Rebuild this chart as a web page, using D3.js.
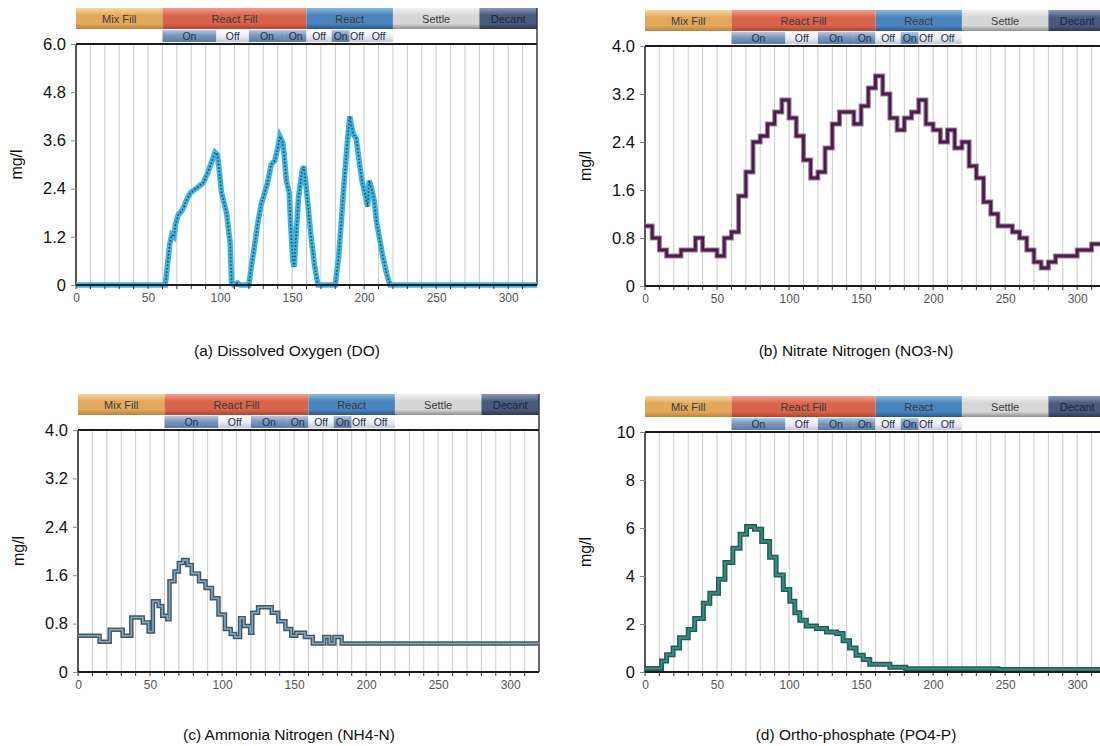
<!DOCTYPE html>
<html><head><meta charset="utf-8">
<script src="https://cdn.jsdelivr.net/npm/d3@7"></script>
<style>body{margin:0;background:#fff}svg{display:block}text{font-family:"Liberation Sans",Arial,sans-serif}</style>
</head><body><svg id="c" width="1100" height="746"></svg>
<script>
// ---- phase bars ----
const phaseNames = ["Mix Fill","React Fill","React","Settle","Decant"];
const phaseStart = [0,60,160,220,280];
const phaseEnd   = [60,160,220,280,320];
const aerLabels = ["On","Off","On","On","Off","On","Off","Off"];
const aerStart  = [60,97.5,120,145,160,177.5,190,200];
const aerEnd    = [97.5,120,145,160,177.5,190,200,220];
const xTicks = [0,50,100,150,200,250,300];
const gridTicks = [10,20,30,40,50,60,70,80,90,100,110,120,130,140,150,160,170,180,190,200,210,220,230,240,250,260,270,280,290,300,310];

// ---- (a) Dissolved Oxygen ----
const doTime  = [0,62,63.5,65,66.5,68,69,71,73.5,75,76.5,79.5,81.5,85,88.5,91.5,95,96.5,98,99,101,104.5,107,108,109.5,112,114,120,121.5,124,126,128.5,131,133,135.5,138,140,141.5,143.5,144.5,146,148,149,150.5,151.5,152.5,154.5,157,158,159,161,163,165.5,168,180,182.3,184,186,188,190,191,192.5,194.5,196.5,198.5,201,202.5,203.5,205.5,207,208.5,211,213,215.5,218,320];
const doValue = [0,0,0.5,1.0,1.25,1.2,1.5,1.75,1.85,1.95,2.1,2.3,2.35,2.45,2.55,2.8,3.15,3.3,3.25,3.0,2.3,1.8,1.05,0.05,0,0.05,0,0,0.4,1.0,1.5,2.0,2.3,2.55,3.0,3.1,3.4,3.7,3.55,3.25,2.6,2.3,1.5,0.6,0.45,1.1,2.2,2.85,2.95,2.7,2.0,1.25,0.5,0,0,0.7,1.5,2.5,3.4,4.2,4.0,3.75,3.65,3.1,2.6,2.2,1.95,2.6,2.35,2.1,1.6,1.1,0.7,0.3,0,0];
const doTicks = [0,1.2,2.4,3.6,4.8,6.0];

// ---- (b) Nitrate ----
const noTime  = [0,5,10,15,20,25,30,35,40,45,50,55,60,65,70,75,80,85,90,95,100,105,110,115,120,125,130,135,140,145,150,155,160,165,170,175,180,185,190,195,200,205,210,215,220,225,230,235,240,245,250,255,260,265,270,275,280,285,290,295,300,305,310,315,320];
const noValue = [1.0,0.8,0.6,0.5,0.5,0.6,0.6,0.8,0.6,0.6,0.5,0.8,0.9,1.5,1.9,2.4,2.5,2.7,2.9,3.1,2.8,2.5,2.1,1.8,1.9,2.3,2.7,2.9,2.9,2.7,3.0,3.3,3.5,3.2,2.8,2.6,2.8,2.9,3.1,2.7,2.6,2.4,2.6,2.3,2.4,2.0,1.8,1.4,1.2,1.0,1.0,0.9,0.8,0.6,0.4,0.3,0.4,0.5,0.5,0.5,0.6,0.6,0.7,0.7,0.7];
const noTicks = [0,0.8,1.6,2.4,3.2,4.0];

// ---- (c) Ammonia ----
const nhTime  = [0,15,22,31,37,45,49,52,56,58.5,62,63.5,67,70,73,76,79,84,88.5,93,97.5,102,106,109,112.5,115,119.5,121,125,134.5,139,144,148,151.5,157.5,163,171,174.5,178,183,320];
const nhValue = [0.6,0.5,0.7,0.6,0.9,0.82,0.67,1.17,1.09,0.93,0.87,1.5,1.66,1.8,1.85,1.77,1.63,1.5,1.39,1.22,0.95,0.71,0.63,0.58,0.89,0.76,0.65,0.98,1.07,0.98,0.84,0.71,0.6,0.65,0.58,0.47,0.58,0.47,0.58,0.47,0.47];
const nhTicks = [0,0.8,1.6,2.4,3.2,4.0];

// ---- (d) Ortho-phosphate ----
const poTime  = [0,11.5,15,19.5,24,30,34.5,40.5,45,51,55.5,61,66,70.5,76,81,86.5,91,96,100.5,104,107.5,112,119,126,133,137.5,142,146.5,151.5,156,170,181,245,320];
const poValue = [0.15,0.46,0.72,1.0,1.43,1.77,2.23,2.86,3.28,3.86,4.56,5.16,5.74,6.06,5.95,5.44,4.78,4.04,3.44,2.95,2.47,2.16,1.92,1.81,1.67,1.6,1.3,1.0,0.7,0.52,0.32,0.2,0.14,0.1,0.1];
const poTicks = [0,2,4,6,8,10];

const phaseColors = [
  ["#f6d7a0","#e2a85c","#b88440"],
  ["#f0a090","#d9644c","#b0432f"],
  ["#8ab8dc","#4a84bc","#2c5686"],
  ["#f2f2f2","#d6d6d6","#8f8f8f"],
  ["#8a9ab8","#4a5a7c","#2c3854"]
];

const svg = d3.select("#c");
const defs = svg.append("defs");
phaseColors.forEach((c,i)=>{
  const g = defs.append("linearGradient").attr("id","ph"+i).attr("x1",0).attr("y1",0).attr("x2",0).attr("y2",1);
  g.append("stop").attr("offset","0%").attr("stop-color",c[0]);
  g.append("stop").attr("offset","35%").attr("stop-color",c[1]);
  g.append("stop").attr("offset","75%").attr("stop-color",c[1]);
  g.append("stop").attr("offset","100%").attr("stop-color",c[2]);
});
const gOn = defs.append("linearGradient").attr("id","aOn").attr("x1",0).attr("y1",0).attr("x2",0).attr("y2",1);
gOn.append("stop").attr("offset","0%").attr("stop-color","#b4c8e2");
gOn.append("stop").attr("offset","45%").attr("stop-color","#7b98bf");
gOn.append("stop").attr("offset","100%").attr("stop-color","#5a7aa4");
const gOff = defs.append("linearGradient").attr("id","aOff").attr("x1",0).attr("y1",0).attr("x2",0).attr("y2",1);
gOff.append("stop").attr("offset","0%").attr("stop-color","#ffffff");
gOff.append("stop").attr("offset","50%").attr("stop-color","#eceef6");
gOff.append("stop").attr("offset","100%").attr("stop-color","#c4c8d8");

function panel(o){
  const W = 461;
  const x = d3.scaleLinear().domain([0,320]).range([o.left,o.left+W]);
  const y = d3.scaleLinear().domain([0,o.ymax]).range([o.bottom,o.top]);
  const g = svg.append("g");
  // grid
  g.selectAll("line.grid").data(gridTicks).join("line")
    .attr("x1",d=>x(d)).attr("x2",d=>x(d)).attr("y1",o.top).attr("y2",o.bottom)
    .attr("stroke","#cbcbcb").attr("stroke-width",1);
  // header phases
  const hTop = o.top-36, hH = 21;
  const ph = g.selectAll("g.ph").data(phaseNames.map((n,i)=>({n,i,s:phaseStart[i],e:phaseEnd[i]}))).join("g");
  ph.append("rect").attr("x",d=>x(d.s)).attr("y",hTop).attr("width",d=>x(d.e)-x(d.s)).attr("height",hH)
    .attr("fill",d=>"url(#ph"+d.i+")");
  ph.append("text").attr("x",d=>(x(d.s)+x(d.e))/2).attr("y",hTop+11).attr("dy","0.35em")
    .attr("text-anchor","middle").attr("font-size",11).attr("fill",d=>d.i===4?"#1c2438":"#3a3a3a").text(d=>d.n);
  // aeration sub bar
  const sTop = hTop+hH+1, sH = 12;
  const ae = g.selectAll("g.ae").data(aerLabels.map((n,i)=>({n,i,s:aerStart[i],e:aerEnd[i]}))).join("g");
  ae.append("rect").attr("x",d=>x(d.s)).attr("y",sTop).attr("width",d=>x(d.e)-x(d.s)).attr("height",sH)
    .attr("fill",d=>d.n==="On"?"url(#aOn)":"url(#aOff)");
  ae.append("text").attr("x",d=>(x(d.s)+x(d.e))/2).attr("y",sTop+sH/2).attr("dy","0.35em")
    .attr("text-anchor","middle").attr("font-size",10.5).attr("fill","#24304a").text(d=>d.n);
  // frame
  g.append("line").attr("x1",o.left).attr("x2",o.left+W).attr("y1",o.top).attr("y2",o.top).attr("stroke","#1c1c1c").attr("stroke-width",2);
  g.append("line").attr("x1",o.left+W).attr("x2",o.left+W).attr("y1",hTop).attr("y2",o.bottom).attr("stroke","#2c3a4c").attr("stroke-width",1.5);
  g.append("line").attr("x1",o.left).attr("x2",o.left).attr("y1",o.top).attr("y2",o.bottom).attr("stroke","#1c1c1c").attr("stroke-width",1.5);
  // series
  const line = d3.line().x((d)=>x(d[0])).y(d=>y(d[1])).curve(o.step?d3.curveStepAfter:d3.curveLinear);
  const pts = o.t.map((t,i)=>[t,o.v[i]]);
  g.append("path").attr("d",line(pts)).attr("fill","none").attr("stroke",o.c1).attr("stroke-width",o.w1).attr("stroke-linejoin","miter");
  g.append("path").attr("d",line(pts)).attr("fill","none").attr("stroke",o.c2).attr("stroke-width",o.w2)
    .attr("stroke-dasharray",o.dash||null);
  // x axis
  g.append("line").attr("x1",o.left).attr("x2",o.left+W).attr("y1",o.bottom).attr("y2",o.bottom).attr("stroke","#1c1c1c").attr("stroke-width",2);
  const xa = g.append("g").attr("transform",`translate(0,${o.bottom})`)
    .call(d3.axisBottom(x).tickValues(xTicks).tickSize(0).tickPadding(8).tickFormat(d3.format("d")));
  xa.select(".domain").remove();
  xa.selectAll("text").attr("font-size",12).attr("fill","#555").attr("font-family","'Liberation Sans',Arial,sans-serif");
  g.selectAll("line.mt").data([0].concat(gridTicks)).join("line")
    .attr("x1",d=>x(d)).attr("x2",d=>x(d)).attr("y1",o.bottom).attr("y2",o.bottom+4).attr("stroke","#333");
  // y axis
  const ya = g.append("g").attr("transform",`translate(${o.left},0)`)
    .call(d3.axisLeft(y).tickValues(o.yt).tickSize(5).tickPadding(5).tickFormat(o.fmt));
  ya.select(".domain").remove();
  ya.selectAll(".tick line").attr("stroke","#888");
  ya.selectAll("text").attr("font-size",16.5).attr("fill","#111").attr("font-family","'Liberation Sans',Arial,sans-serif");
  g.append("text").attr("transform",`translate(${o.left-54},${(o.top+o.bottom)/2}) rotate(-90)`)
    .attr("text-anchor","middle").attr("font-size",16).attr("fill","#111").text("mg/l");
  g.append("text").attr("x",o.left+211).attr("y",o.titleY).attr("dy","0.35em").attr("text-anchor","middle")
    .attr("font-size",15.5).attr("fill","#111").text(o.title);
}
const f1 = d=> d===0?"0":d3.format(".1f")(d);
panel({left:76,top:44,bottom:285,ymax:6,yt:doTicks,fmt:f1,t:doTime,v:doValue,step:false,
  c1:"#3cb4e2",w1:5.5,c2:"#1d4a62",w2:1.6,dash:"1.5,2",title:"(a) Dissolved Oxygen (DO)",titleY:351});
panel({left:645,top:46,bottom:286,ymax:4,yt:noTicks,fmt:f1,t:noTime,v:noValue,step:true,
  c1:"#a27ea2",w1:5,c2:"#4a1d48",w2:2.8,title:"(b) Nitrate Nitrogen (NO3-N)",titleY:351});
panel({left:78,top:430,bottom:672,ymax:4,yt:nhTicks,fmt:f1,t:nhTime,v:nhValue,step:true,
  c1:"#3e586c",w1:4.5,c2:"#88a6ba",w2:1.6,title:"(c) Ammonia Nitrogen (NH4-N)",titleY:735});
panel({left:645,top:432,bottom:672,ymax:10,yt:poTicks,fmt:d3.format("d"),t:poTime,v:poValue,step:true,
  c1:"#1f5e56",w1:5,c2:"#3a8c80",w2:2,title:"(d) Ortho-phosphate (PO4-P)",titleY:735});
</script></body></html>
